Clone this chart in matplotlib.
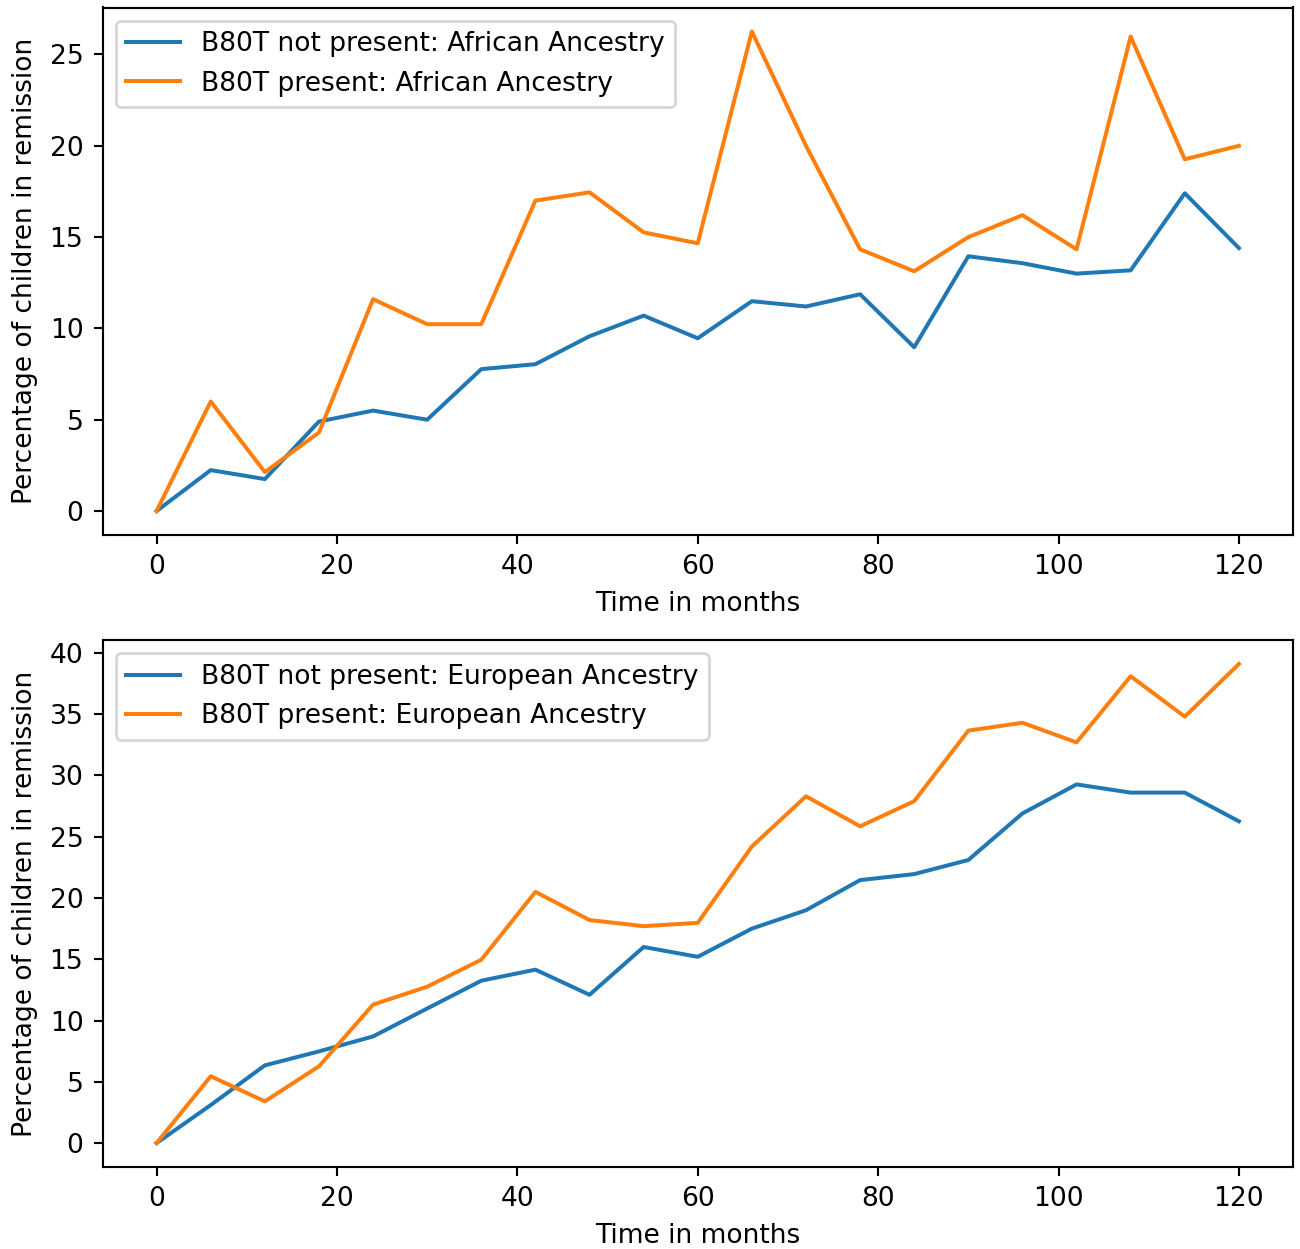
import matplotlib
matplotlib.use("Agg")
import matplotlib.pyplot as plt
from matplotlib.ticker import MultipleLocator

months = list(range(0, 121, 6))

afr_not_present = [0, 2.24, 1.75, 4.9, 5.5, 5.0, 7.77, 8.04, 9.57, 10.7, 9.46,
                   11.49, 11.2, 11.87, 8.97, 13.95, 13.57, 13.0, 13.18, 17.4, 14.4]
afr_present = [0, 6.0, 2.13, 4.3, 11.6, 10.23, 10.23, 17.0, 17.45, 15.26, 14.66,
               26.26, 20.0, 14.33, 13.13, 15.0, 16.2, 14.33, 25.98, 19.26, 20.0]

eur_not_present = [0, 3.1, 6.34, 7.48, 8.7, 10.98, 13.25, 14.15, 12.1, 16.0, 15.2,
                   17.5, 19.0, 21.46, 21.95, 23.1, 26.9, 29.27, 28.6, 28.6, 26.26]
eur_present = [0, 5.45, 3.4, 6.26, 11.3, 12.76, 14.96, 20.5, 18.2, 17.7, 17.97,
               24.2, 28.3, 25.85, 27.9, 33.66, 34.3, 32.7, 38.1, 34.8, 39.1]

scale = 0.956
plt.rcParams.update({
    "font.size": 10 * scale,
    "lines.linewidth": 1.5 * scale,
    "axes.linewidth": 0.8 * scale,
    "xtick.major.width": 0.8 * scale,
    "ytick.major.width": 0.8 * scale,
    "xtick.major.size": 3.5 * scale,
    "ytick.major.size": 3.5 * scale,
})

W, H = 1300, 1249
fig = plt.figure(figsize=(W / 200, H / 200), dpi=200)

def frac(l, t, r, b):
    return [l / W, 1 - b / H, (r - l) / W, (b - t) / H]

ax1 = fig.add_axes(frac(102.5, 7.5, 1293, 535))
ax2 = fig.add_axes(frac(102.5, 640, 1293, 1167))

ax1.plot(months, afr_not_present, label="B80T not present: African Ancestry")
ax1.plot(months, afr_present, label="B80T present: African Ancestry")
ax1.set_xlabel("Time in months")
ax1.set_ylabel("Percentage of children in remission")
ax1.legend(loc="upper left")

ax2.plot(months, eur_not_present, label="B80T not present: European Ancestry")
ax2.plot(months, eur_present, label="B80T present: European Ancestry")
ax2.yaxis.set_major_locator(MultipleLocator(5))
ax2.set_xlabel("Time in months")
ax2.set_ylabel("Percentage of children in remission")
ax2.legend(loc="upper left")

fig.savefig("out.png")
